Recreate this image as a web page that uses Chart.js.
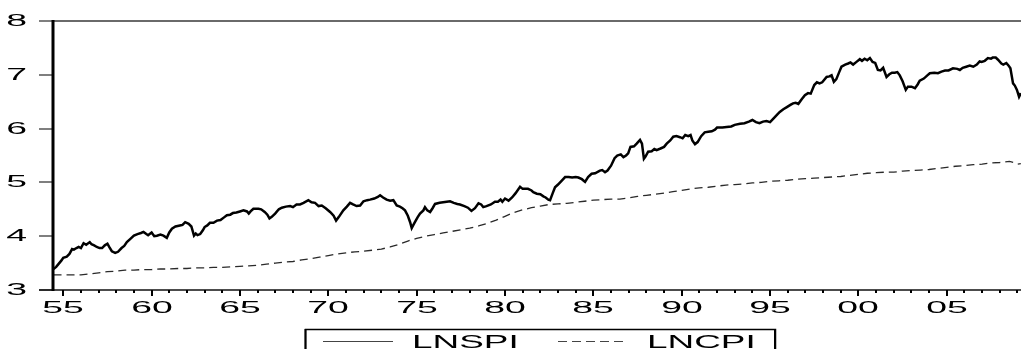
<!DOCTYPE html>
<html>
<head>
<meta charset="utf-8">
<title>LNSPI and LNCPI</title>
<script src="https://cdn.jsdelivr.net/npm/chart.js@4.4.1/dist/chart.umd.min.js"></script>
<style>
  html, body { margin: 0; padding: 0; background: #ffffff; }
  #wrap { width: 1021px; height: 349px; overflow: hidden; }
</style>
</head>
<body>
<div id="wrap"><canvas id="chart" width="1021" height="349"></canvas></div>
<script>
// Log of the stock price index, sampled through time (decimal years)
const spiYears = [
  1954.45,1954.6,1954.75,1954.9,1955.0,1955.2,1955.35,1955.5,1955.6,1955.75,1955.87,
  1956.0,1956.15,1956.3,1956.5,1956.6,1956.75,1956.9,1957.05,1957.2,1957.35,1957.5,
  1957.6,1957.75,1957.94,1958.1,1958.3,1958.45,1958.6,1958.8,1959.0,1959.2,1959.4,
  1959.54,1959.7,1959.8,1960.0,1960.15,1960.3,1960.5,1960.67,1960.86,1961.0,1961.15,
  1961.35,1961.6,1961.75,1961.9,1962.1,1962.25,1962.4,1962.5,1962.6,1962.75,1962.9,
  1963.0,1963.15,1963.3,1963.5,1963.7,1963.9,1964.1,1964.26,1964.45,1964.6,1964.8,
  1965.0,1965.2,1965.4,1965.5,1965.6,1965.76,1966.05,1966.2,1966.4,1966.55,1966.67,
  1966.8,1966.99,1967.2,1967.37,1967.6,1967.84,1968.0,1968.2,1968.4,1968.6,1968.87,
  1969.05,1969.25,1969.45,1969.63,1969.85,1970.1,1970.3,1970.44,1970.6,1970.85,
  1971.05,1971.23,1971.4,1971.6,1971.8,1971.99,1972.2,1972.36,1972.6,1972.8,1972.93,
  1973.1,1973.3,1973.5,1973.68,1973.87,1974.05,1974.2,1974.34,1974.5,1974.63,1974.72,
  1974.8,1974.9,1975.05,1975.19,1975.38,1975.47,1975.6,1975.76,1975.9,1976.04,1976.3,
  1976.5,1976.7,1976.89,1977.1,1977.3,1977.45,1977.7,1977.9,1978.1,1978.3,1978.5,
  1978.65,1978.77,1978.95,1979.2,1979.43,1979.6,1979.75,1979.85,1980.0,1980.2,1980.4,
  1980.6,1980.85,1981.0,1981.3,1981.5,1981.6,1981.8,1982.0,1982.17,1982.3,1982.45,
  1982.55,1982.7,1982.83,1983.0,1983.2,1983.4,1983.6,1983.8,1984.0,1984.15,1984.35,
  1984.53,1984.7,1984.9,1985.1,1985.37,1985.5,1985.66,1985.8,1986.0,1986.2,1986.35,
  1986.55,1986.7,1986.85,1986.97,1987.1,1987.3,1987.45,1987.64,1987.75,1987.86,1987.95,
  1988.1,1988.3,1988.45,1988.58,1988.8,1989.0,1989.15,1989.35,1989.52,1989.7,1989.9,
  1990.05,1990.2,1990.37,1990.5,1990.6,1990.75,1990.9,1991.1,1991.3,1991.5,1991.7,
  1991.88,1992.0,1992.3,1992.54,1992.8,1993.0,1993.3,1993.55,1993.8,1994.0,1994.2,
  1994.4,1994.6,1994.8,1995.0,1995.2,1995.4,1995.55,1995.75,1995.95,1996.15,1996.3,
  1996.45,1996.6,1996.8,1996.97,1997.15,1997.3,1997.5,1997.65,1997.8,1997.95,1998.2,
  1998.35,1998.48,1998.61,1998.75,1998.9,1999.04,1999.25,1999.42,1999.55,1999.7,1999.89,
  2000.08,2000.2,2000.35,2000.5,2000.65,2000.8,2000.95,2001.1,2001.25,2001.4,2001.59,
  2001.75,2001.9,2002.06,2002.2,2002.34,2002.5,2002.68,2002.8,2003.0,2003.2,2003.35,
  2003.47,2003.7,2003.9,2004.04,2004.3,2004.5,2004.7,2004.9,2005.1,2005.35,2005.6,
  2005.74,2005.9,2006.1,2006.3,2006.5,2006.7,2006.86,2006.97,2007.15,2007.33,2007.5,
  2007.6,2007.77,2007.9,2008.09,2008.2,2008.37,2008.5,2008.6,2008.75,2008.85,2008.97,
  2009.09,2009.19
];
const spiValues = [
  3.39,3.43,3.49,3.55,3.60,3.62,3.67,3.76,3.75,3.78,3.80,
  3.78,3.87,3.84,3.89,3.85,3.83,3.80,3.78,3.78,3.83,3.86,
  3.80,3.72,3.69,3.71,3.78,3.82,3.89,3.95,4.01,4.04,4.06,
  4.08,4.04,4.02,4.07,4.00,4.01,4.03,4.01,3.97,4.07,4.14,
  4.18,4.20,4.21,4.26,4.23,4.18,4.01,4.05,4.02,4.04,4.11,
  4.17,4.20,4.25,4.25,4.29,4.30,4.35,4.39,4.40,4.43,4.44,
  4.46,4.48,4.46,4.42,4.46,4.51,4.51,4.50,4.45,4.40,4.33,
  4.36,4.42,4.50,4.53,4.55,4.56,4.54,4.59,4.59,4.62,4.67,
  4.63,4.62,4.56,4.57,4.52,4.45,4.38,4.29,4.36,4.48,
  4.55,4.62,4.59,4.56,4.57,4.65,4.67,4.68,4.70,4.73,4.76,
  4.72,4.68,4.66,4.67,4.57,4.55,4.52,4.48,4.38,4.26,4.15,
  4.20,4.26,4.35,4.42,4.48,4.54,4.48,4.45,4.52,4.60,4.62,
  4.63,4.64,4.65,4.62,4.60,4.59,4.56,4.53,4.47,4.52,4.61,
  4.59,4.54,4.56,4.59,4.64,4.64,4.68,4.64,4.70,4.66,4.72,
  4.80,4.92,4.88,4.88,4.85,4.82,4.79,4.78,4.74,4.72,4.68,
  4.67,4.80,4.91,4.96,5.03,5.10,5.10,5.09,5.10,5.09,5.06,
  5.01,5.10,5.16,5.17,5.22,5.23,5.19,5.22,5.31,5.45,5.50,
  5.52,5.47,5.50,5.54,5.66,5.67,5.72,5.79,5.72,5.44,5.48,
  5.57,5.58,5.62,5.60,5.63,5.66,5.72,5.78,5.85,5.86,5.84,
  5.82,5.88,5.86,5.88,5.78,5.71,5.75,5.86,5.93,5.94,5.95,
  5.98,6.02,6.02,6.03,6.04,6.07,6.09,6.10,6.13,6.16,6.12,
  6.10,6.13,6.14,6.12,6.19,6.26,6.31,6.36,6.40,6.44,6.47,
  6.48,6.46,6.55,6.62,6.66,6.65,6.81,6.86,6.84,6.86,6.96,
  6.97,6.99,6.87,6.92,7.04,7.15,7.19,7.21,7.23,7.19,7.24,
  7.29,7.26,7.30,7.27,7.31,7.24,7.22,7.09,7.08,7.13,6.96,
  7.01,7.04,7.04,7.05,6.99,6.88,6.72,6.78,6.78,6.75,6.82,
  6.89,6.93,6.99,7.03,7.04,7.03,7.06,7.08,7.08,7.12,7.11,
  7.09,7.13,7.15,7.17,7.15,7.19,7.25,7.24,7.26,7.31,7.30,
  7.32,7.32,7.28,7.21,7.19,7.22,7.17,7.12,6.84,6.80,6.72,
  6.59,6.66
];

// Log of the consumer price index, half-yearly
const cpiYears = [
  1954.45,1955.0,1955.5,1956.0,1956.5,1957.0,1957.5,1958.0,1958.5,1959.0,1959.5,
  1960.0,1960.5,1961.0,1961.5,1962.0,1962.5,1963.0,1963.5,1964.0,1964.5,1965.0,
  1965.5,1966.0,1966.5,1967.0,1967.5,1968.0,1968.5,1969.0,1969.5,1970.0,1970.5,
  1971.0,1971.5,1972.0,1972.5,1973.0,1973.5,1974.0,1974.5,1975.0,1975.5,1976.0,
  1976.5,1977.0,1977.5,1978.0,1978.5,1979.0,1979.5,1980.0,1980.5,1981.0,1981.5,
  1982.0,1982.5,1983.0,1983.5,1984.0,1984.5,1985.0,1985.5,1986.0,1986.5,1987.0,
  1987.5,1988.0,1988.5,1989.0,1989.5,1990.0,1990.5,1991.0,1991.5,1992.0,1992.5,
  1993.0,1993.5,1994.0,1994.5,1995.0,1995.5,1996.0,1996.5,1997.0,1997.5,1998.0,
  1998.5,1999.0,1999.5,2000.0,2000.5,2001.0,2001.5,2002.0,2002.5,2003.0,2003.5,
  2004.0,2004.5,2005.0,2005.5,2006.0,2006.5,2007.0,2007.5,2008.0,2008.55,2008.8,
  2009.0,2009.19
];
const cpiValues = [
  3.28,3.28,3.28,3.28,3.30,3.32,3.34,3.35,3.37,3.37,3.38,
  3.38,3.39,3.39,3.40,3.40,3.41,3.41,3.42,3.42,3.43,3.44,
  3.45,3.46,3.48,3.50,3.52,3.53,3.56,3.58,3.61,3.64,3.67,
  3.69,3.71,3.72,3.74,3.76,3.80,3.85,3.91,3.96,4.00,4.03,
  4.06,4.09,4.12,4.15,4.19,4.24,4.30,4.37,4.44,4.49,4.53,
  4.56,4.59,4.60,4.61,4.63,4.65,4.67,4.68,4.69,4.69,4.71,
  4.74,4.76,4.78,4.80,4.83,4.85,4.88,4.90,4.91,4.93,4.95,
  4.96,4.97,4.99,5.00,5.02,5.03,5.04,5.06,5.07,5.08,5.09,
  5.10,5.11,5.13,5.15,5.17,5.18,5.19,5.19,5.21,5.22,5.23,
  5.24,5.26,5.28,5.30,5.31,5.33,5.34,5.36,5.37,5.39,5.37,
  5.34,5.35
];

const seriesNames = ['LNSPI', 'LNCPI'];

// Axis ticks
const yTicks = [3, 4, 5, 6, 7, 8];
const xLabelYears = [1955, 1960, 1965, 1970, 1975, 1980, 1985, 1990, 1995, 2000, 2005];
const xTickLabels = ['55', '60', '65', '70', '75', '80', '85', '90', '95', '00', '05'];
const xRange = [1954.42, 2009.2];

const FONT = '"Liberation Sans", Arial, Helvetica, sans-serif';
const STRETCH = 2.2;

function stretchedText(ctx, text, x, y, align, size, sx) {
  ctx.save();
  ctx.font = size + 'px ' + FONT;
  ctx.textAlign = align;
  ctx.textBaseline = 'alphabetic';
  ctx.translate(x, y);
  ctx.scale(sx, 1);
  ctx.fillText(text, 0, 0);
  ctx.restore();
}

// Frame, ticks, tick labels and the boxed legend, drawn off the chart's own scales
const framePlugin = {
  id: 'frame',
  afterDraw(chart) {
    const ctx = chart.ctx;
    const a = chart.chartArea;
    const sx = chart.scales.x, sy = chart.scales.y;
    ctx.save();
    ctx.lineCap = 'butt';

    // top border
    ctx.strokeStyle = '#6a6a6a';
    ctx.lineWidth = 2;
    ctx.beginPath();
    ctx.moveTo(a.left, a.top);
    ctx.lineTo(a.right, a.top);
    ctx.stroke();

    // y ticks and labels
    ctx.fillStyle = '#000';
    sy.ticks.forEach(t => {
      const py = Math.round(sy.getPixelForValue(t.value));
      ctx.strokeStyle = '#555';
      ctx.lineWidth = 1.5;
      ctx.beginPath();
      ctx.moveTo(a.left - 14, py);
      ctx.lineTo(a.left, py);
      ctx.stroke();
      stretchedText(ctx, String(t.value), 27, py + 5, 'right', 17, STRETCH);
    });

    // bottom axis
    ctx.strokeStyle = '#111';
    ctx.lineWidth = 1.5;
    ctx.beginPath();
    ctx.moveTo(a.left - 14, a.bottom);
    ctx.lineTo(a.right, a.bottom);
    ctx.stroke();

    // x ticks: one per year, longer on labelled years
    sx.ticks.forEach(t => {
      if (!Number.isInteger(t.value)) return;
      const px = Math.round(sx.getPixelForValue(t.value));
      const idx = xLabelYears.indexOf(t.value);
      ctx.strokeStyle = '#000';
      ctx.lineWidth = 2;
      ctx.beginPath();
      ctx.moveTo(px, a.bottom);
      ctx.lineTo(px, a.bottom + (idx >= 0 ? 6 : 3));
      ctx.stroke();
      if (idx >= 0) {
        stretchedText(ctx, xTickLabels[idx], px, a.bottom + 23, 'center', 17, STRETCH);
      }
    });

    // left axis
    ctx.strokeStyle = '#000';
    ctx.lineWidth = 3;
    ctx.beginPath();
    ctx.moveTo(a.left, a.top - 1);
    ctx.lineTo(a.left, a.bottom + 1);
    ctx.stroke();

    // legend box
    const ds = chart.data.datasets;
    ctx.strokeStyle = '#000';
    ctx.lineWidth = 1.5;
    ctx.strokeRect(305.5, 329.5, 470, 30);
    ctx.lineWidth = 2;
    ctx.beginPath();
    ctx.moveTo(305.5, 329);
    ctx.lineTo(305.5, 349);
    ctx.moveTo(775, 329);
    ctx.lineTo(775, 349);
    ctx.stroke();

    // legend entries
    const entries = [
      { x0: 323, x1: 393, tx: 412, dash: [], w: 1, color: '#444' },
      { x0: 558, x1: 627, tx: 647, dash: [9, 5], w: 1.2, color: '#444' }
    ];
    entries.forEach((e, i) => {
      ctx.save();
      ctx.strokeStyle = e.color;
      ctx.lineWidth = e.w;
      ctx.setLineDash(e.dash);
      ctx.beginPath();
      ctx.moveTo(e.x0, 341.5);
      ctx.lineTo(e.x1, 341.5);
      ctx.stroke();
      ctx.restore();
      ctx.fillStyle = '#000';
      stretchedText(ctx, ds[i].label, e.tx, 348, 'left', 18, 2.05);
    });

    ctx.restore();
  }
};

const ctx = document.getElementById('chart').getContext('2d');
new Chart(ctx, {
  type: 'line',
  data: {
    datasets: [
      {
        label: seriesNames[0],
        data: spiYears.map((x, i) => ({ x: x, y: spiValues[i] })),
        borderColor: '#000000',
        borderWidth: 2.5,
        pointRadius: 0,
        tension: 0,
        fill: false
      },
      {
        label: seriesNames[1],
        data: cpiYears.map((x, i) => ({ x: x, y: cpiValues[i] })),
        borderColor: '#2a2a2a',
        borderWidth: 1.3,
        borderDash: [8, 5],
        pointRadius: 0,
        tension: 0,
        fill: false
      }
    ]
  },
  options: {
    responsive: false,
    animation: false,
    devicePixelRatio: 1,
    layout: { padding: { left: 53, top: 21, right: 0, bottom: 59 } },
    plugins: { legend: { display: false }, tooltip: { enabled: false } },
    scales: {
      x: {
        type: 'linear',
        min: xRange[0],
        max: xRange[1],
        ticks: { display: false },
        grid: { display: false },
        border: { display: false },
        afterBuildTicks: s => {
          const t = [];
          for (let yr = Math.ceil(xRange[0]); yr <= xRange[1]; yr++) t.push({ value: yr });
          s.ticks = t;
        },
        afterFit: s => { s.height = 0; }
      },
      y: {
        type: 'linear',
        min: yTicks[0],
        max: yTicks[yTicks.length - 1],
        ticks: { display: false },
        grid: { display: false },
        border: { display: false },
        afterBuildTicks: s => { s.ticks = yTicks.map(v => ({ value: v })); },
        afterFit: s => { s.width = 0; }
      }
    }
  },
  plugins: [framePlugin]
});
</script>
</body>
</html>
